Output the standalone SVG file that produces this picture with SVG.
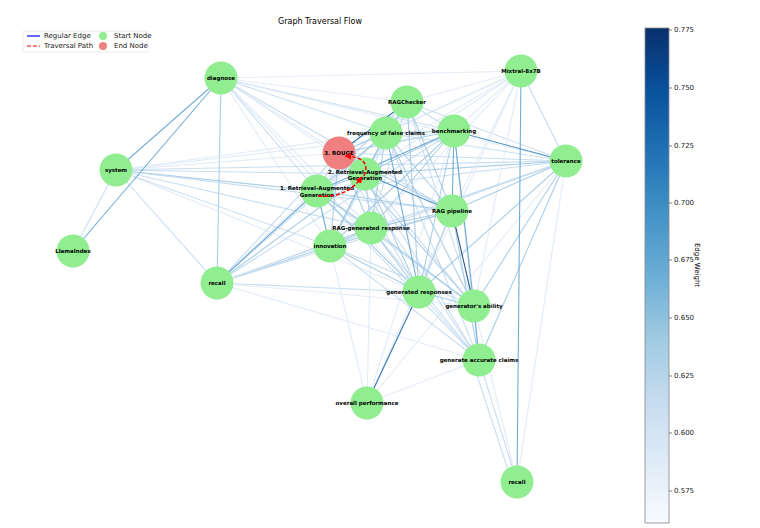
<svg xmlns="http://www.w3.org/2000/svg" width="760" height="528" viewBox="0 0 760 528">
<style>
text{font-family:"DejaVu Sans","Liberation Sans",sans-serif;fill:#000}
.nl{font-size:5.5px;font-weight:bold;text-anchor:middle;dominant-baseline:central}
.tk{font-size:7px;dominant-baseline:central;fill:#222}
.n{fill:#90ee90}
.e line{stroke-width:1.1;stroke-opacity:0.85}
.c1{stroke:#dde9f6}.c2{stroke:#c0d8ee}.c3{stroke:#9cc6e2}.c4{stroke:#5a9fce}.c5{stroke:#2f7dbb}.c6{stroke:#135fa7}.c7{stroke:#08306b}
.tp{fill:none;stroke:#ff0000;stroke-width:1.5;stroke-dasharray:4 2}
</style>
<defs>
<linearGradient id="cb" x1="0" y1="0" x2="0" y2="1">
<stop offset="0" stop-color="#08306b"/>
<stop offset="0.125" stop-color="#08519c"/>
<stop offset="0.25" stop-color="#2171b5"/>
<stop offset="0.375" stop-color="#4292c6"/>
<stop offset="0.5" stop-color="#6baed6"/>
<stop offset="0.625" stop-color="#9ecae1"/>
<stop offset="0.75" stop-color="#c6dbef"/>
<stop offset="0.875" stop-color="#deebf7"/>
<stop offset="1" stop-color="#f7fbff"/>
</linearGradient>
<marker id="ah" viewBox="0 0 10 10" refX="9" refY="5" markerWidth="4.5" markerHeight="4.5" orient="auto"><path d="M0,0L10,5L0,10z" fill="#ff0000"/></marker>
</defs>
<rect width="760" height="528" fill="#fff"/>
<text x="320" y="24" style="font-size:8px" text-anchor="middle">Graph Traversal Flow</text>
<g id="legend">
<rect x="23" y="31" width="125" height="21" fill="#fff" stroke="#ddd" stroke-width="0.6" rx="1.5"/>
<line x1="27" y1="36" x2="40" y2="36" stroke="#0000ff" stroke-width="1.2"/>
<text x="44" y="36" class="tk">Regular Edge</text>
<line x1="27" y1="46" x2="40" y2="46" stroke="#ff0000" stroke-width="1.2" stroke-dasharray="4 2"/>
<text x="44" y="46" class="tk">Traversal Path</text>
<circle cx="103" cy="36" r="4" fill="#90ee90"/>
<text x="114" y="36" class="tk">Start Node</text>
<circle cx="103" cy="46" r="4" fill="#f08080"/>
<text x="114" y="46" class="tk">End Node</text>
</g>
<g id="connectors" class="e">
<line class="c1" x1="221" y1="78" x2="365" y2="174"/>
<line class="c1" x1="221" y1="78" x2="339" y2="153"/>
<line class="c2" x1="221" y1="78" x2="386" y2="133"/>
<line class="c1" x1="221" y1="78" x2="407" y2="102"/>
<line class="c2" x1="221" y1="78" x2="454" y2="131"/>
<line class="c1" x1="221" y1="78" x2="566" y2="161"/>
<line class="c2" x1="221" y1="78" x2="452" y2="211"/>
<line class="c1" x1="221" y1="78" x2="330" y2="246"/>
<line class="c1" x1="221" y1="78" x2="371" y2="228"/>
<line class="c1" x1="221" y1="78" x2="419" y2="292"/>
<line class="c1" x1="221" y1="78" x2="521" y2="71"/>
<line class="c2" x1="221" y1="78" x2="317" y2="191"/>
<line class="c3" x1="221" y1="78" x2="217" y2="283"/>
<line class="c2" x1="116" y1="170" x2="73" y2="251"/>
<line class="c2" x1="116" y1="170" x2="217" y2="283"/>
<line class="c3" x1="116" y1="170" x2="317" y2="191"/>
<line class="c2" x1="116" y1="170" x2="365" y2="174"/>
<line class="c2" x1="116" y1="170" x2="452" y2="211"/>
<line class="c2" x1="116" y1="170" x2="566" y2="161"/>
<line class="c2" x1="116" y1="170" x2="371" y2="228"/>
<line class="c2" x1="116" y1="170" x2="330" y2="246"/>
<line class="c1" x1="116" y1="170" x2="419" y2="292"/>
<line class="c1" x1="116" y1="170" x2="339" y2="153"/>
<line class="c1" x1="116" y1="170" x2="454" y2="131"/>
<line class="c1" x1="116" y1="170" x2="386" y2="133"/>
<line class="c3" x1="217" y1="283" x2="330" y2="246"/>
<line class="c3" x1="217" y1="283" x2="371" y2="228"/>
<line class="c3" x1="217" y1="283" x2="365" y2="174"/>
<line class="c2" x1="217" y1="283" x2="452" y2="211"/>
<line class="c2" x1="217" y1="283" x2="419" y2="292"/>
<line class="c1" x1="217" y1="283" x2="474" y2="306"/>
<line class="c2" x1="217" y1="283" x2="454" y2="131"/>
<line class="c2" x1="217" y1="283" x2="386" y2="133"/>
<line class="c2" x1="217" y1="283" x2="339" y2="153"/>
<line class="c1" x1="217" y1="283" x2="566" y2="161"/>
<line class="c1" x1="217" y1="283" x2="407" y2="102"/>
<line class="c1" x1="217" y1="283" x2="479" y2="360"/>
<line class="c1" x1="317" y1="191" x2="521" y2="71"/>
<line class="c2" x1="317" y1="191" x2="407" y2="102"/>
<line class="c2" x1="317" y1="191" x2="566" y2="161"/>
<line class="c2" x1="317" y1="191" x2="474" y2="306"/>
<line class="c2" x1="317" y1="191" x2="479" y2="360"/>
<line class="c3" x1="317" y1="191" x2="365" y2="174"/>
<line class="c3" x1="317" y1="191" x2="339" y2="153"/>
<line class="c3" x1="317" y1="191" x2="386" y2="133"/>
<line class="c3" x1="317" y1="191" x2="452" y2="211"/>
<line class="c3" x1="317" y1="191" x2="371" y2="228"/>
<line class="c3" x1="317" y1="191" x2="419" y2="292"/>
<line class="c1" x1="365" y1="174" x2="521" y2="71"/>
<line class="c2" x1="365" y1="174" x2="339" y2="153"/>
<line class="c2" x1="365" y1="174" x2="407" y2="102"/>
<line class="c2" x1="365" y1="174" x2="474" y2="306"/>
<line class="c2" x1="365" y1="174" x2="479" y2="360"/>
<line class="c3" x1="365" y1="174" x2="386" y2="133"/>
<line class="c3" x1="365" y1="174" x2="454" y2="131"/>
<line class="c3" x1="365" y1="174" x2="566" y2="161"/>
<line class="c3" x1="365" y1="174" x2="371" y2="228"/>
<line class="c3" x1="365" y1="174" x2="330" y2="246"/>
<line class="c3" x1="365" y1="174" x2="419" y2="292"/>
<line class="c1" x1="339" y1="153" x2="521" y2="71"/>
<line class="c2" x1="339" y1="153" x2="566" y2="161"/>
<line class="c2" x1="339" y1="153" x2="419" y2="292"/>
<line class="c2" x1="339" y1="153" x2="479" y2="360"/>
<line class="c3" x1="339" y1="153" x2="386" y2="133"/>
<line class="c3" x1="339" y1="153" x2="454" y2="131"/>
<line class="c3" x1="339" y1="153" x2="452" y2="211"/>
<line class="c3" x1="339" y1="153" x2="371" y2="228"/>
<line class="c3" x1="339" y1="153" x2="330" y2="246"/>
<line class="c3" x1="339" y1="153" x2="474" y2="306"/>
<line class="c1" x1="386" y1="133" x2="521" y2="71"/>
<line class="c2" x1="386" y1="133" x2="566" y2="161"/>
<line class="c2" x1="386" y1="133" x2="479" y2="360"/>
<line class="c3" x1="386" y1="133" x2="407" y2="102"/>
<line class="c3" x1="386" y1="133" x2="454" y2="131"/>
<line class="c3" x1="386" y1="133" x2="452" y2="211"/>
<line class="c3" x1="386" y1="133" x2="371" y2="228"/>
<line class="c3" x1="386" y1="133" x2="330" y2="246"/>
<line class="c3" x1="386" y1="133" x2="474" y2="306"/>
<line class="c1" x1="407" y1="102" x2="521" y2="71"/>
<line class="c2" x1="407" y1="102" x2="454" y2="131"/>
<line class="c2" x1="407" y1="102" x2="566" y2="161"/>
<line class="c2" x1="407" y1="102" x2="371" y2="228"/>
<line class="c2" x1="407" y1="102" x2="330" y2="246"/>
<line class="c2" x1="407" y1="102" x2="474" y2="306"/>
<line class="c3" x1="407" y1="102" x2="452" y2="211"/>
<line class="c3" x1="407" y1="102" x2="419" y2="292"/>
<line class="c1" x1="454" y1="131" x2="521" y2="71"/>
<line class="c1" x1="454" y1="131" x2="367" y2="403"/>
<line class="c2" x1="454" y1="131" x2="479" y2="360"/>
<line class="c3" x1="454" y1="131" x2="371" y2="228"/>
<line class="c3" x1="454" y1="131" x2="330" y2="246"/>
<line class="c3" x1="454" y1="131" x2="419" y2="292"/>
<line class="c1" x1="521" y1="71" x2="452" y2="211"/>
<line class="c1" x1="521" y1="71" x2="419" y2="292"/>
<line class="c1" x1="521" y1="71" x2="371" y2="228"/>
<line class="c1" x1="521" y1="71" x2="474" y2="306"/>
<line class="c2" x1="521" y1="71" x2="566" y2="161"/>
<line class="c1" x1="566" y1="161" x2="517" y2="482"/>
<line class="c1" x1="566" y1="161" x2="367" y2="403"/>
<line class="c2" x1="566" y1="161" x2="371" y2="228"/>
<line class="c2" x1="566" y1="161" x2="330" y2="246"/>
<line class="c3" x1="566" y1="161" x2="452" y2="211"/>
<line class="c3" x1="566" y1="161" x2="419" y2="292"/>
<line class="c3" x1="566" y1="161" x2="474" y2="306"/>
<line class="c3" x1="566" y1="161" x2="479" y2="360"/>
<line class="c1" x1="452" y1="211" x2="367" y2="403"/>
<line class="c3" x1="452" y1="211" x2="371" y2="228"/>
<line class="c3" x1="452" y1="211" x2="330" y2="246"/>
<line class="c3" x1="452" y1="211" x2="419" y2="292"/>
<line class="c3" x1="452" y1="211" x2="479" y2="360"/>
<line class="c1" x1="371" y1="228" x2="367" y2="403"/>
<line class="c2" x1="371" y1="228" x2="479" y2="360"/>
<line class="c3" x1="371" y1="228" x2="330" y2="246"/>
<line class="c3" x1="371" y1="228" x2="419" y2="292"/>
<line class="c3" x1="371" y1="228" x2="474" y2="306"/>
<line class="c1" x1="330" y1="246" x2="367" y2="403"/>
<line class="c2" x1="330" y1="246" x2="474" y2="306"/>
<line class="c2" x1="330" y1="246" x2="479" y2="360"/>
<line class="c3" x1="330" y1="246" x2="419" y2="292"/>
<line class="c2" x1="419" y1="292" x2="479" y2="360"/>
<line class="c3" x1="419" y1="292" x2="474" y2="306"/>
<line class="c1" x1="474" y1="306" x2="517" y2="482"/>
<line class="c2" x1="479" y1="360" x2="517" y2="482"/>
<line class="c2" x1="472" y1="360" x2="512" y2="482"/>
<line class="c1" x1="479" y1="360" x2="367" y2="403"/>
<line class="c4" x1="221" y1="78" x2="116" y2="170"/>
<line class="c4" x1="221" y1="78" x2="73" y2="251"/>
<line class="c4" x1="217" y1="283" x2="317" y2="191"/>
<line class="c4" x1="317" y1="191" x2="454" y2="131"/>
<line class="c4" x1="317" y1="191" x2="330" y2="246"/>
<line class="c4" x1="386" y1="133" x2="419" y2="292"/>
<line class="c4" x1="454" y1="131" x2="452" y2="211"/>
<line class="c4" x1="454" y1="131" x2="474" y2="306"/>
<line class="c4" x1="521" y1="71" x2="517" y2="482"/>
<line class="c4" x1="474" y1="306" x2="479" y2="360"/>
<line class="c5" x1="365" y1="174" x2="452" y2="211"/>
<line class="c5" x1="454" y1="131" x2="566" y2="161"/>
<line class="c6" x1="339" y1="153" x2="407" y2="102"/>
<line class="c6" x1="419" y1="292" x2="367" y2="403"/>
<line class="c7" x1="452" y1="211" x2="474" y2="306"/>
</g>
<g id="n-diagnose"><circle class="n" cx="221" cy="78" r="16.5"/><text class="nl" x="221" y="78">diagnose</text></g>
<g id="n-system"><circle class="n" cx="116" cy="170" r="16.5"/><text class="nl" x="116" y="170">system</text></g>
<g id="n-llamaindex"><circle class="n" cx="73" cy="251" r="16.5"/><text class="nl" x="73" y="251">LlamaIndex</text></g>
<g id="n-recall1"><circle class="n" cx="217" cy="283" r="16.5"/><text class="nl" x="217" y="283">recall</text></g>
<g id="n-innovation"><circle class="n" cx="330" cy="246" r="16.5"/><text class="nl" x="330" y="246">innovation</text></g>
<g id="n-rag1"><circle class="n" cx="317" cy="191" r="16.5"/><text class="nl" x="317" y="188">1. Retrieval-Augmented</text><text class="nl" x="317" y="195">Generation</text></g>
<g id="n-rag2"><circle class="n" cx="365" cy="174" r="16.5"/><text class="nl" x="365" y="171.5">2. Retrieval-Augmented</text><text class="nl" x="365" y="178">Generation</text></g>
<g id="n-rouge"><circle cx="339" cy="153" r="16.5" fill="#f08080"/><text class="nl" x="339" y="153">3. ROUGE</text></g>
<g id="n-freq"><circle class="n" cx="386" cy="133" r="16.5"/><text class="nl" x="386" y="133">frequency of false claims</text></g>
<g id="n-ragchecker"><circle class="n" cx="407" cy="102" r="16.5"/><text class="nl" x="407" y="102">RAGChecker</text></g>
<g id="n-benchmarking"><circle class="n" cx="454" cy="131" r="16.5"/><text class="nl" x="454" y="131">benchmarking</text></g>
<g id="n-mixtral"><circle class="n" cx="521" cy="71" r="16.5"/><text class="nl" x="521" y="71">Mixtral-8x7B</text></g>
<g id="n-tolerance"><circle class="n" cx="566" cy="161" r="16.5"/><text class="nl" x="566" y="161">tolerance</text></g>
<g id="n-pipeline"><circle class="n" cx="452" cy="211" r="16.5"/><text class="nl" x="452" y="211">RAG pipeline</text></g>
<g id="n-ragresp"><circle class="n" cx="371" cy="228" r="16.5"/><text class="nl" x="371" y="228">RAG-generated response</text></g>
<g id="n-genresp"><circle class="n" cx="419" cy="292" r="16.5"/><text class="nl" x="419" y="292">generated responses</text></g>
<g id="n-genability"><circle class="n" cx="474" cy="306" r="16.5"/><text class="nl" x="474" y="306">generator's ability</text></g>
<g id="n-genclaims"><circle class="n" cx="479" cy="360" r="16.5"/><text class="nl" x="479" y="360">generate accurate claims</text></g>
<g id="n-overall"><circle class="n" cx="367" cy="403" r="16.5"/><text class="nl" x="367" y="403">overall performance</text></g>
<g id="n-recall2"><circle class="n" cx="517" cy="482" r="16.5"/><text class="nl" x="517" y="482">recall</text></g>
<g id="traversal">
<path class="tp" d="M318,196 Q346,199 362,177" marker-end="url(#ah)"/>
<path class="tp" d="M364,176 Q372,157 345,156" marker-end="url(#ah)"/>
</g>
<g id="colorbar">
<rect x="645" y="28" width="24" height="495" fill="url(#cb)" stroke="#888" stroke-width="0.8"/>
<g stroke="#333" stroke-width="0.6">
<line x1="669" y1="30" x2="672" y2="30"/><line x1="669" y1="88" x2="672" y2="88"/><line x1="669" y1="146" x2="672" y2="146"/><line x1="669" y1="203" x2="672" y2="203"/><line x1="669" y1="260" x2="672" y2="260"/><line x1="669" y1="318" x2="672" y2="318"/><line x1="669" y1="376" x2="672" y2="376"/><line x1="669" y1="433" x2="672" y2="433"/><line x1="669" y1="491" x2="672" y2="491"/>
</g>
<text class="tk" x="674" y="30">0.775</text>
<text class="tk" x="674" y="88">0.750</text>
<text class="tk" x="674" y="146">0.725</text>
<text class="tk" x="674" y="203">0.700</text>
<text class="tk" x="674" y="260">0.675</text>
<text class="tk" x="674" y="318">0.650</text>
<text class="tk" x="674" y="376">0.625</text>
<text class="tk" x="674" y="433">0.600</text>
<text class="tk" x="674" y="491">0.575</text>
<text x="697" y="265" style="font-size:7px" text-anchor="middle" dominant-baseline="central" transform="rotate(90 697 265)">Edge Weight</text>
</g>
</svg>
